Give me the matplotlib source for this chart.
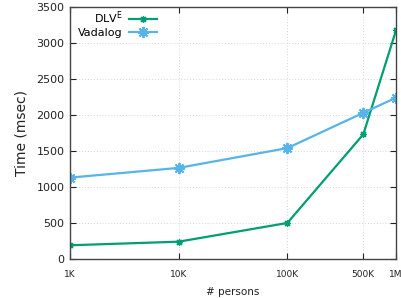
import matplotlib
matplotlib.use("Agg")
import matplotlib.pyplot as plt

persons = [1e3, 1e4, 1e5, 5e5, 1e6]
x_tick_labels = ["1K", "10K", "100K", "500K", "1M"]
dlv = [190, 240, 500, 1730, 3175]
vadalog = [1130, 1265, 1540, 2030, 2240]

fig = plt.figure(figsize=(4.01, 2.98), dpi=100)
ax = fig.add_axes([0.1746, 0.131, 0.8129, 0.8455])

ax.plot(persons, dlv, color="#009e73", lw=1.6, marker=(8, 2, 0), ms=5, mew=0.9,
        label=r"DLV$^{\mathrm{E}}$")
ax.plot(persons, vadalog, color="#56b4e9", lw=1.6, marker=(8, 2, 0), ms=8, mew=1.4,
        label="Vadalog")

ax.set_xscale("log")
ax.set_xlim(1e3, 1e6)
ax.set_ylim(0, 3500)
ax.set_xticks(persons)
ax.set_xticklabels(x_tick_labels)
ax.minorticks_off()
ax.set_yticks(range(0, 3501, 500))

ax.tick_params(axis="x", labelsize=6.5, direction="in", top=True, length=4, pad=8, colors="#222222")
ax.tick_params(axis="y", labelsize=8, direction="in", right=True, length=4, pad=4, colors="#222222")
for s in ax.spines.values():
    s.set_color("#444444")
    s.set_linewidth(1.0)

ax.grid(True, color="#d5d5d5", linestyle=(0, (1, 2)), linewidth=0.7)

ax.set_ylabel("Time (msec)", fontsize=10, labelpad=6, color="#222222")
ax.set_xlabel("# persons", fontsize=7.5, labelpad=6, color="#222222")

leg = ax.legend(loc="upper left", bbox_to_anchor=(0.0, 1.02), frameon=False,
                markerfirst=False, fontsize=8, handlelength=2.5,
                handletextpad=0.6, labelspacing=0.15, borderaxespad=0.3)

fig.savefig("out.png", dpi=100)
